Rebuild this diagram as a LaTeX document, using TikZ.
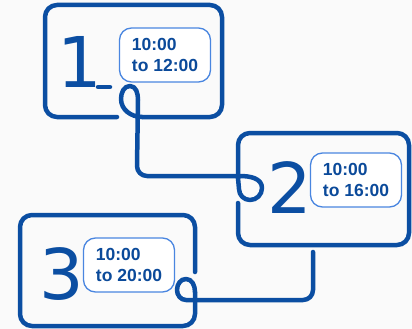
\documentclass[tikz,border=0pt]{standalone}
\usepackage{fontspec}
\setmainfont{Liberation Sans}
\newfontfamily\digitfont{DejaVu Sans}
\definecolor{Paper}{HTML}{FAFAFA}
\definecolor{InkBlue}{HTML}{0B4EA2}
\definecolor{RimBlue}{HTML}{4A86E0}
\definecolor{TextBlue}{HTML}{0B4A9A}
\begin{document}
\begin{tikzpicture}[x=1pt,y=-1pt,frame/.style={draw=InkBlue,line width=4.5pt,line cap=round,line join=round},slot/.style={draw=RimBlue,fill=white,line width=1.3pt,rounded corners=12pt,minimum width=91pt,minimum height=54pt,align=left,text=TextBlue,font=\fontsize{17.5}{21}\selectfont\bfseries},digit/.style={anchor=base,text=InkBlue,font=\digitfont\fontsize{70}{70}\selectfont}]
\fill[Paper](0,0)rectangle(412,329);
% frames with gaps where the loops join
\draw[frame,rounded corners=12pt](117,117)--(45,117)--(45,5)--(222,5)--(222,117)--(142,117);
\draw[frame,rounded corners=12pt](238,203)--(238,245)--(409,245)--(409,133)--(238,133)--(238,178);
\draw[frame,rounded corners=12pt](195,272)--(195,215)--(20,215)--(20,326)--(195,326)--(195,292);
% loops and connectors
\coordinate(hang) at (313,252);
\draw[frame](142,117)to[out=180,in=270](121,99)to[out=90,in=180](130,86)to[out=0,in=90](138,100)--(137,166)to[out=270,in=180](147,176)--(240,176)to[out=0,in=90](262,188)to[out=270,in=0](250,200)to[out=180,in=270](239,189)--(238,178);
\draw[frame](hang)--(313,290)to[out=270,in=0](303,300)--(186,300)to[out=180,in=270](177,290)to[out=90,in=180](186,279)to[out=0,in=90](195,292);
% digits
\node[digit](one)at(80,87){1};\draw[frame](98,87)--(110,87);
\node[digit](two)at(290,213){2};
\node[digit](three)at(62,299){3};
% time slots
\node[slot](s1)at(165,55){10:00\\to 12:00};
\node[slot](s2)at(356,180){10:00\\to 16:00};
\node[slot](s3)at(129,265){10:00\\to 20:00};
\end{tikzpicture}
\end{document}
